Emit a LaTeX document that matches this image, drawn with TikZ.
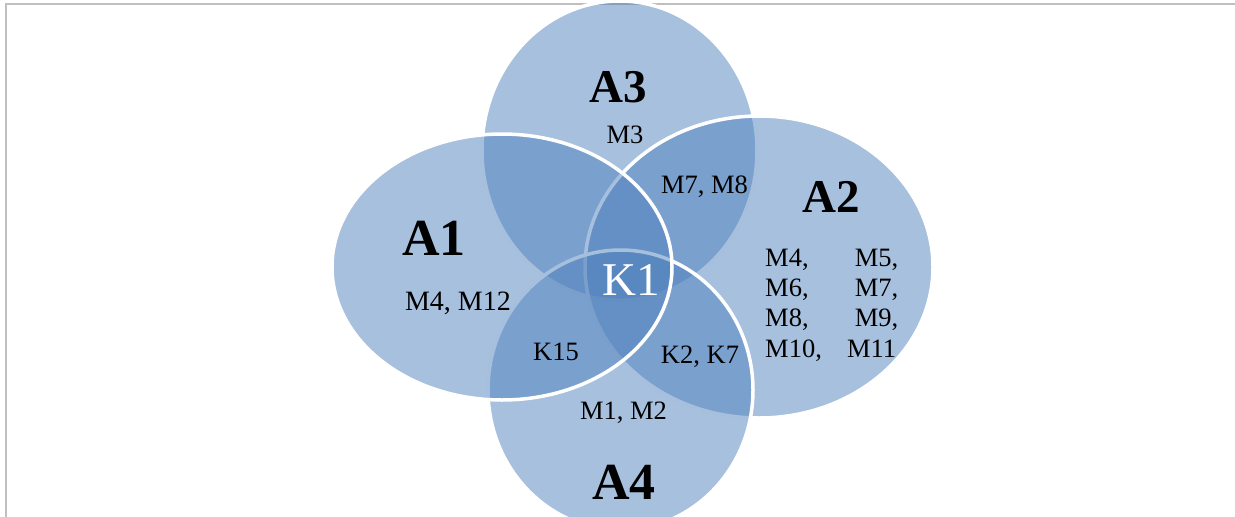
\documentclass[tikz,border=0pt]{standalone}
\usepackage{fontspec}
\setmainfont{Liberation Serif}
\definecolor{setblue}{HTML}{4F81BD}
\definecolor{framegray}{HTML}{BFBFBF}
\begin{document}
\begin{tikzpicture}[x=1pt,y=-1pt,
  setshape/.style={fill=setblue, fill opacity=0.5, draw=white, line width=3.5pt},
  bigA/.style={font=\fontsize{52}{60}\selectfont\bfseries, inner sep=0pt, anchor=base},
  bigB/.style={font=\fontsize{47}{56}\selectfont\bfseries, inner sep=0pt, anchor=base},
  lbl/.style={font=\fontsize{26.5}{30}\selectfont, inner sep=0pt, anchor=base},
  rowlbl/.style={font=\fontsize{26.5}{30}\selectfont, inner sep=0pt, anchor=base west},
  frameline/.style={draw=framegray, line width=2pt},
]
\useasboundingbox (0,0) rectangle (1235,517);
% frame
\coordinate (fbl) at (6,517);
\coordinate (ftl) at (6,4);
\coordinate (ftr) at (1235,4);
\draw[frameline] (fbl) -- (ftl) -- (ftr);
% sets: drawing order A3, A2, A4, A1
\draw[setshape] (619.5,150.6) ellipse [x radius=137.5, y radius=149.6];
\draw[setshape] (759,267) ellipse [x radius=174, y radius=151];
\draw[setshape] (620.5,390) ellipse [x radius=132.5, y radius=140];
\draw[setshape] (502,267) ellipse [x radius=170, y radius=133];
% labels
\node[bigB] (a3) at (618,102) {A3};
\node[lbl] (m3) at (625,143) {M3};
\node[lbl] (m78) at (704.5,193) {M7, M8};
\node[bigB] (a2) at (831,212) {A2};
\node[rowlbl] (r1) at (765,266) {\makebox[133pt]{M4,\hfill M5,}};
\node[rowlbl] (r2) at (765,296) {\makebox[133pt]{M6,\hfill M7,}};
\node[rowlbl] (r3) at (765,326) {\makebox[133pt]{M8,\hfill M9,}};
\node[rowlbl] (r4) at (765,357) {\makebox[131pt]{M10,\hfill M11}};
\node[bigA] (a1) at (434,255) {A1};
\node[lbl, font=\fontsize{28}{32}\selectfont] (m412) at (458,310) {M4, M12};
\node[lbl] (k15) at (556,360) {K15};
\node[lbl, font=\fontsize{47}{54}\selectfont, text=white] (k1) at (631.5,295) {K1};
\node[lbl] (k27) at (700,363) {K2, K7};
\node[lbl] (m12) at (623.5,419) {M1, M2};
\node[bigA] (a4) at (624,499) {A4};
\end{tikzpicture}
\end{document}
